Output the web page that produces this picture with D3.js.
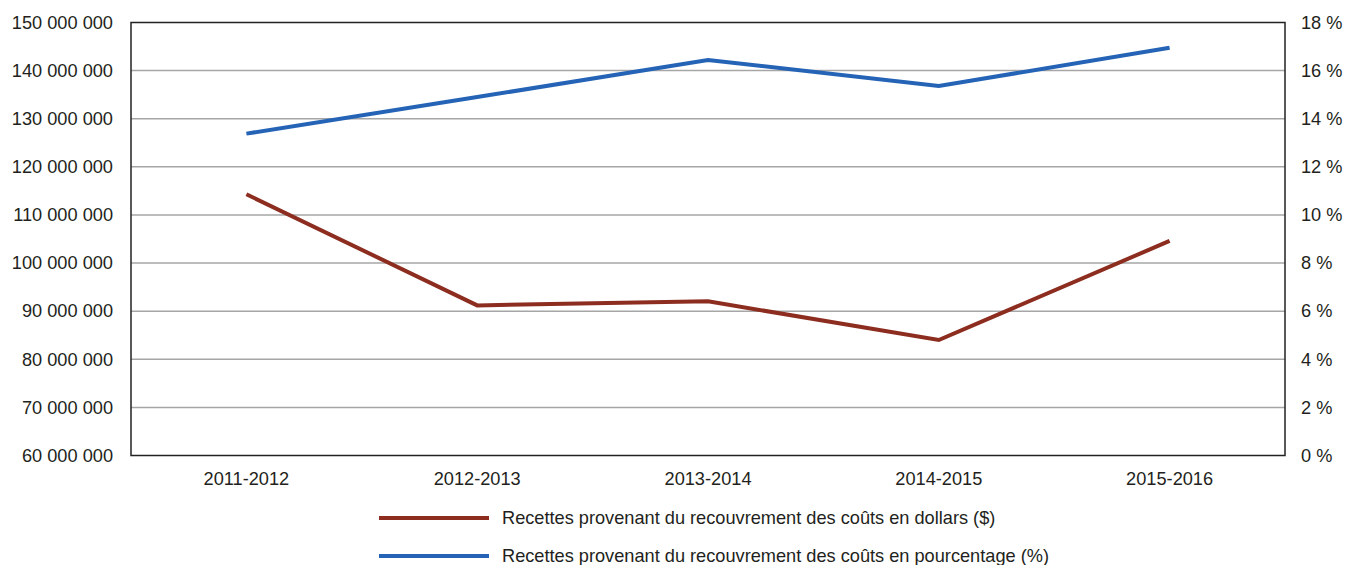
<!DOCTYPE html>
<html>
<head>
<meta charset="utf-8">
<script src="https://cdn.jsdelivr.net/npm/d3@7"></script>
<style>
  body { margin: 0; background: #fff; }
  svg text { font-family: "Liberation Sans", Arial, sans-serif; fill: #231f20; }
</style>
</head>
<body>
<svg id="chart" width="1346" height="565"></svg>
<script>
// data
var years = ["2011-2012", "2012-2013", "2013-2014", "2014-2015", "2015-2016"];
var dollars = [114300000, 91200000, 92050000, 84000000, 104600000];
var percents = [13.38, 14.9, 16.44, 15.36, 16.95];
var leftTicks = [60e6, 70e6, 80e6, 90e6, 100e6, 110e6, 120e6, 130e6, 140e6, 150e6];
var rightTicks = [0, 2, 4, 6, 8, 10, 12, 14, 16, 18];
var legendLabels = [
  "Recettes provenant du recouvrement des coûts en dollars ($)",
  "Recettes provenant du recouvrement des coûts en pourcentage (%)"
];
var colors = ["#8c2d20", "#2463b5"];

var svg = d3.select("#chart");
var mLeft = 131, mRight = 1285, mTop = 22.5, mBottom = 455.5;

var x = d3.scaleBand().domain(years).range([mLeft, mRight]);
var yL = d3.scaleLinear().domain([60e6, 150e6]).range([mBottom, mTop]);
var yR = d3.scaleLinear().domain([0, 18]).range([mBottom, mTop]);

var fmt = function(d) { return d3.format(",")(d).replace(/,/g, " "); };

// gridlines
svg.append("g").selectAll("line")
  .data(leftTicks.slice(1, -1))
  .join("line")
    .attr("x1", mLeft).attr("x2", mRight)
    .attr("y1", function(d) { return yL(d); })
    .attr("y2", function(d) { return yL(d); })
    .attr("stroke", "#a6a6a6")
    .attr("stroke-width", 1.5);

// frame
svg.append("rect")
  .attr("x", mLeft).attr("y", mTop)
  .attr("width", mRight - mLeft).attr("height", mBottom - mTop)
  .attr("fill", "none").attr("stroke", "#222").attr("stroke-width", 1.5);

var fs = "18.2px";

// left axis
var axL = svg.append("g").call(d3.axisLeft(yL).tickValues(leftTicks).tickFormat(fmt).tickSize(0).tickPadding(18))
  .attr("transform", "translate(" + mLeft + ",0)");
axL.select(".domain").remove();
axL.selectAll("text").style("font-size", fs).attr("fill", "#231f20");

// right axis
var axR = svg.append("g").call(d3.axisRight(yR).tickValues(rightTicks).tickFormat(function(d) { return d + " %"; }).tickSize(0).tickPadding(16))
  .attr("transform", "translate(" + mRight + ",0)");
axR.select(".domain").remove();
axR.selectAll("text").style("font-size", fs).attr("fill", "#231f20");

// x axis
var axX = svg.append("g").call(d3.axisBottom(x).tickSize(0).tickPadding(17))
  .attr("transform", "translate(0," + mBottom + ")");
axX.select(".domain").remove();
axX.selectAll("text").style("font-size", fs).attr("fill", "#231f20");

var cx = function(d, i) { return x(years[i]) + x.bandwidth() / 2; };

svg.append("path")
  .datum(dollars)
  .attr("fill", "none").attr("stroke", colors[0]).attr("stroke-width", 4)
  .attr("d", d3.line().x(cx).y(function(d) { return yL(d); }));

svg.append("path")
  .datum(percents)
  .attr("fill", "none").attr("stroke", colors[1]).attr("stroke-width", 4)
  .attr("d", d3.line().x(cx).y(function(d) { return yR(d); }));

// legend
var leg = svg.append("g").selectAll("g")
  .data(legendLabels)
  .join("g")
    .attr("transform", function(d, i) { return "translate(379," + (518 + i * 38) + ")"; });
leg.append("line")
  .attr("x1", 0).attr("x2", 110)
  .attr("stroke", function(d, i) { return colors[i]; })
  .attr("stroke-width", 4);
leg.append("text")
  .attr("x", 123).attr("dy", "0.35em")
  .style("font-size", fs)
  .text(function(d) { return d; });
</script>
</body>
</html>
